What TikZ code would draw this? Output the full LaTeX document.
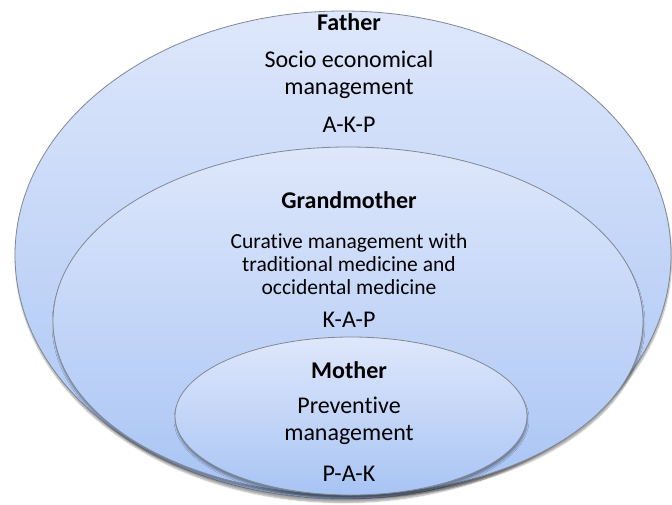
\documentclass[tikz,border=0pt]{standalone}
\usepackage{fontspec}
\setmainfont[Ligatures=NoCommon]{Carlito}
\usetikzlibrary{shapes.geometric,shadows.blur}
\definecolor{ringtop}{RGB}{222,231,251}
\definecolor{ringbot}{RGB}{168,196,244}
\definecolor{ringline}{RGB}{128,136,148}
\tikzset{
  ring/.style={ellipse, inner sep=0pt, draw=ringline, line width=0.8pt,
    top color=ringtop, bottom color=ringbot,
    blur shadow={shadow xshift=0.5pt, shadow yshift=-3.5pt, shadow blur radius=1.5pt,
      shadow blur steps=5, shadow opacity=35}},
  title/.style={font=\fontsize{24}{27}\selectfont\bfseries, inner sep=0pt},
  body/.style={font=\fontsize{24}{27}\selectfont, align=center, inner sep=0pt},
  smallbody/.style={font=\fontsize{21.5}{23}\selectfont, align=center, inner sep=0pt}
}
\begin{document}
\begin{tikzpicture}[x=1pt,y=-1pt]
  \useasboundingbox (0,0) rectangle (672,504);
  % nested rings
  \node[ring, minimum width=656pt, minimum height=488pt] (outer) at (343,255) {};
  \node[ring, minimum width=590pt, minimum height=348pt] (middle) at (348,321) {};
  \node[ring, minimum width=352pt, minimum height=158pt] (inner) at (351,416) {};
  % father
  \node[title] (fathertitle) at (349,22) {Father};
  \node[body] (fatherbody) at (349,75) {Socio economical\\management};
  \node[body] (fathercode) at (349,125) {A-K-P};
  % grandmother
  \node[title] (gmtitle) at (349,200) {Grandmother};
  \node[smallbody] (gmbody) at (349,264) {Curative management with\\traditional medicine and\\occidental medicine};
  \node[body] (gmcode) at (349,320) {K-A-P};
  % mother
  \node[title] (mtitle) at (349,370) {Mother};
  \node[body] (mbody) at (349,421) {Preventive\\management};
  \node[body] (mcode) at (349,474) {P-A-K};
\end{tikzpicture}
\end{document}
